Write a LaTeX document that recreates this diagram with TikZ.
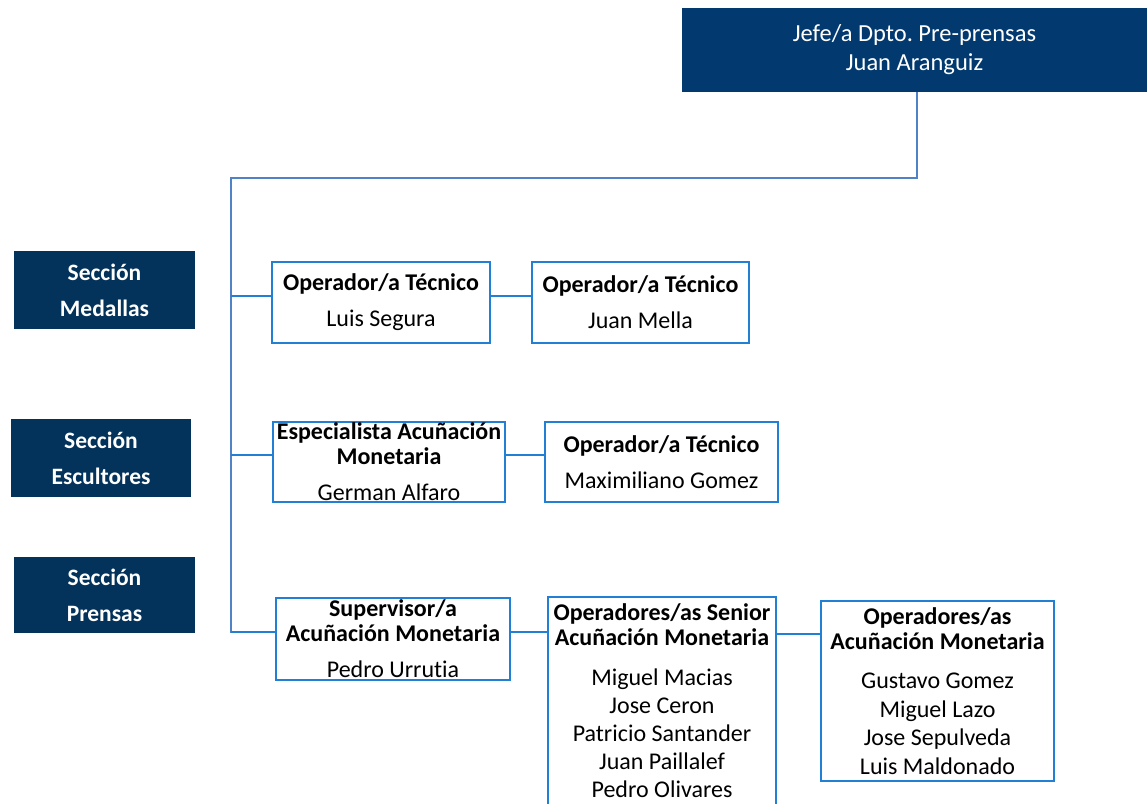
\documentclass[tikz,border=0pt]{standalone}
\usepackage{fontspec}
\setmainfont{Carlito}[Ligatures={NoCommon,NoRare}]
\definecolor{navyA}{RGB}{2,58,112}
\definecolor{navyB}{RGB}{3,50,90}
\definecolor{boxblue}{RGB}{34,128,212}
\definecolor{trunkblue}{RGB}{80,130,200}
\tikzset{
  darkbox/.style={fill=navyB, draw=none, text=white, align=center, inner sep=0pt, font=\fontsize{23.5}{36}\selectfont\bfseries},
  topbox/.style={fill=navyA, draw=none, text=white, align=center, inner sep=0pt, font=\fontsize{24.5}{29}\selectfont},
  orgbox/.style={draw=boxblue, line width=2pt, fill=white, align=center, inner sep=0pt, font=\fontsize{24}{25}\selectfont},
  conn/.style={draw=boxblue, line width=2pt},
  trunk/.style={draw=trunkblue, line width=1.6pt}
}
\newcommand{\ttl}[1]{\textbf{#1}}
\frenchspacing
\begin{document}
\begin{tikzpicture}[x=1pt, y=-1pt]
\useasboundingbox (0,0) rectangle (1147,803);
\fill[white] (0,0) rectangle (1147,803);

% top box
\node[topbox, minimum width=465pt, minimum height=84pt] (jefe) at (914.5,50) {Jefe/a Dpto. Pre-prensas\\Juan Aranguiz};

% sections
\node[darkbox, minimum width=181pt, minimum height=78pt] (medallas) at (104.5,290) {Sección\\Medallas};
\node[darkbox, minimum width=180pt, minimum height=78pt] (escultores) at (101,458) {Sección\\Escultores};
\node[darkbox, minimum width=181pt, minimum height=76pt] (prensas) at (104.5,595) {Sección\\Prensas};

% org boxes
\node[orgbox, minimum width=218pt, minimum height=81pt] (lseg) at (381,302.5) {\ttl{Operador/a Técnico}\\[11pt]Luis Segura};
\node[orgbox, minimum width=217pt, minimum height=81pt] (jmella) at (640.5,302.5) {\ttl{Operador/a Técnico}\\[11pt]Juan Mella};
\node[orgbox, minimum width=232pt, minimum height=80pt] (espec) at (389,462) {\ttl{Especialista Acuñación}\\\ttl{Monetaria}\\[11pt]German Alfaro};
\node[orgbox, minimum width=233pt, minimum height=80pt] (maxi) at (661.5,462) {\ttl{Operador/a Técnico}\\[11pt]Maximiliano Gomez};
\node[orgbox, minimum width=234pt, minimum height=82pt] (superv) at (393,639) {\ttl{Supervisor/a}\\\ttl{Acuñación Monetaria}\\[11pt]Pedro Urrutia};
\node[orgbox, minimum width=228pt, minimum height=208pt] (senior) at (662,701) {\ttl{Operadores/as Senior}\\\ttl{Acuñación Monetaria}\\[15pt]Miguel Macias\\[3pt]Jose Ceron\\[3pt]Patricio Santander\\[3pt]Juan Paillalef\\[3pt]Pedro Olivares};
\node[orgbox, minimum width=233pt, minimum height=180pt] (ops) at (937.5,691) {\ttl{Operadores/as}\\\ttl{Acuñación Monetaria}\\[14pt]Gustavo Gomez\\[3.5pt]Miguel Lazo\\[3.5pt]Jose Sepulveda\\[3.5pt]Luis Maldonado};

% trunk
\coordinate (tA) at (917,178);
\coordinate (tB) at (231,178);
\coordinate (tC) at (231,633);
\draw[trunk] (jefe.south -| tA) -- (tA) -- (tB) -- (tC);

% branches
\draw[conn] ([yshift=7pt]lseg.west) -- ([yshift=7pt]lseg.west -| tB);
\draw[conn] ([yshift=7pt]espec.west) -- ([yshift=7pt]espec.west -| tB);
\draw[conn] ([yshift=7pt]superv.west) -- ([yshift=7pt]superv.west -| tB);
\draw[conn] ([yshift=7pt]lseg.east) -- ([yshift=7pt]lseg.east -| jmella.west);
\draw[conn] ([yshift=7pt]espec.east) -- ([yshift=7pt]espec.east -| maxi.west);
\draw[conn] ([yshift=7pt]superv.east) -- ([yshift=7pt]superv.east -| senior.west);
\draw[conn] ([yshift=5pt]superv.east -| senior.east) -- ([yshift=5pt]superv.east -| ops.west);
\end{tikzpicture}
\end{document}
